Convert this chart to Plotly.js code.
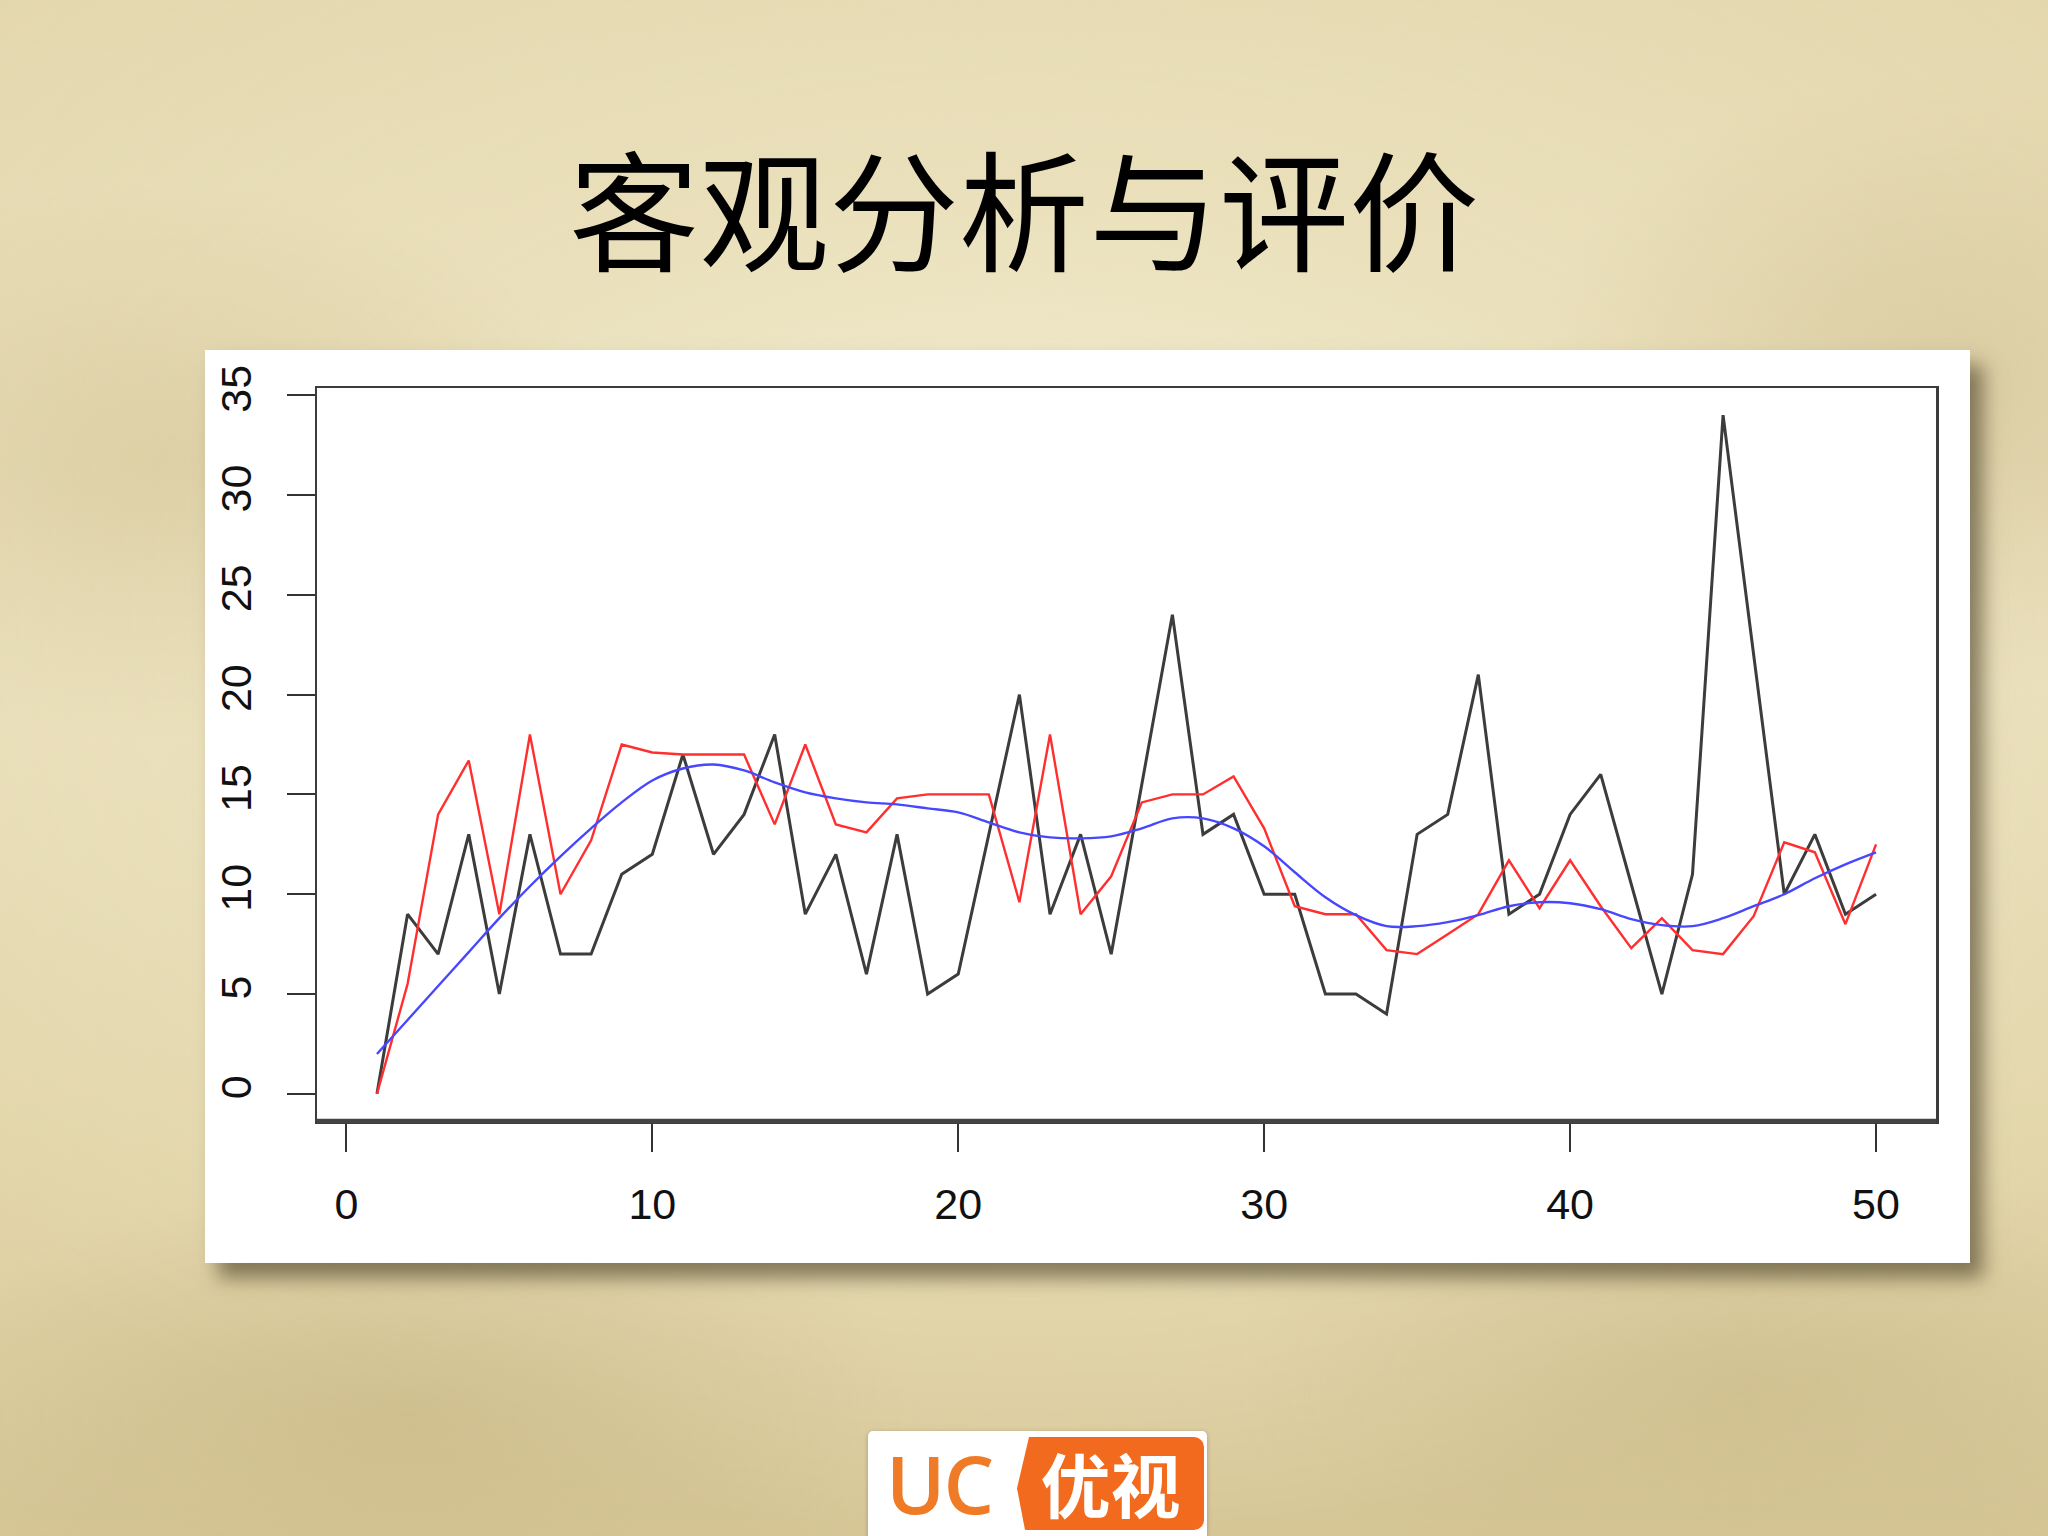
<!DOCTYPE html>
<html>
<head>
<meta charset="utf-8">
<script src="https://cdn.plot.ly/plotly-3.0.1.min.js"></script>
<style>
html, body { margin:0; padding:0; width:2048px; height:1536px; overflow:hidden; }
body {
  background:
    radial-gradient(ellipse 22% 18% at 8% 30%, rgba(205,188,140,0.45) 0%, rgba(205,188,140,0) 100%),
    radial-gradient(ellipse 20% 20% at 95% 25%, rgba(200,182,135,0.45) 0%, rgba(200,182,135,0) 100%),
    radial-gradient(ellipse 25% 15% at 20% 92%, rgba(196,178,128,0.5) 0%, rgba(196,178,128,0) 100%),
    radial-gradient(ellipse 25% 15% at 85% 90%, rgba(196,178,128,0.45) 0%, rgba(196,178,128,0) 100%),
    radial-gradient(ellipse 70% 60% at 50% 40%, rgba(244,238,210,0.95) 0%, rgba(236,227,192,0.6) 50%, rgba(210,195,150,0) 100%),
    linear-gradient(180deg, #e3d7ad 0%, #e9dfba 40%, #e0d3a6 80%, #d6c696 100%);
}
#panel { position:absolute; left:205px; top:350px; width:1765px; height:913px; background:#fff;
  box-shadow: 13px 15px 18px rgba(70,60,35,0.6); }
#chart { position:absolute; left:0; top:0; width:2048px; height:1536px; }
#logo { position:absolute; left:868px; top:1431px; width:339px; height:105px; background:#fff;
  border-radius:5px 5px 0 0; box-shadow:0 1px 4px rgba(0,0,0,0.25); }
#logo .uc { position:absolute; left:18px; top:12px; font-family:'Open Sans', sans-serif; font-weight:600;
  font-size:80px; line-height:80px; height:80px; color:#f07b26; letter-spacing:-2px; }
#logo .yx { position:absolute; left:149px; top:6px; width:187px; height:93px; background:#f26a1d;
  border-radius:10px; clip-path: polygon(12px 0, 100% 0, 100% 100%, 8px 100%, 0 55%); }
#logo .yx span { position:absolute; left:0; top:10px; width:187px; height:72px; color:#fff;
  font-family:'Noto Sans CJK SC', sans-serif; font-weight:700; font-size:70px; line-height:72px; text-align:center; }
</style>
</head>
<body>
<div id="panel"></div>
<div id="chart"></div>
<div id="logo"><span class="uc">UC</span><div class="yx"><span>优视</span></div></div>
<script>
// index 1..50
const xIndex = [1,2,3,4,5,6,7,8,9,10,11,12,13,14,15,16,17,18,19,20,
                21,22,23,24,25,26,27,28,29,30,31,32,33,34,35,36,37,38,39,40,
                41,42,43,44,45,46,47,48,49,50];
// observed series (black)
const observed = [0,9,7,13,5,13,7,7,11,12, 17,12,14,18,9,12,6,13,5,6,
                  13,20,9,13,7,15.5,24,13,14,10, 10,5,5,4,13,14,21,9,10,14,
                  16,10.5,5,11,34,22,10,13,9,10];
// fitted series (red)
const fitted = [0,5.5,14,16.7,9,18,10,12.7,17.5,17.1, 17,17,17,13.5,17.5,13.5,13.1,14.8,15,15,
                15,9.6,18,9,10.9,14.6,15,15,15.9,13.3, 9.4,9,9,7.2,7,8,9,11.7,9.3,11.7,
                9.4,7.3,8.8,7.2,7,8.9,12.6,12.1,8.5,12.5];
// smoothed trend (blue)
const smooth = [2.0,3.7,5.4,7.1,8.8,10.4,11.9,13.3,14.6,15.7, 16.3,16.5,16.2,15.6,15.1,14.8,14.6,14.5,14.3,14.1,
                13.6,13.1,12.85,12.8,12.9,13.3,13.8,13.8,13.3,12.4, 11.1,9.85,8.95,8.4,8.4,8.6,8.95,9.4,9.6,9.55,
                9.25,8.75,8.45,8.4,8.8,9.4,10.0,10.8,11.5,12.1];
const xTicks = [0,10,20,30,40,50];
const yTicks = [0,5,10,15,20,25,30,35];
const titleText = '客观分析与评价';

const traces = [
  { x: xIndex, y: observed, type:'scatter', mode:'lines', line:{color:'#3c3c3c', width:3}, hoverinfo:'skip' },
  { x: xIndex, y: fitted, type:'scatter', mode:'lines', line:{color:'#ff2f2f', width:2.4}, hoverinfo:'skip' },
  { x: xIndex, y: smooth, type:'scatter', mode:'lines', line:{color:'#4747ff', width:2.4, shape:'spline', smoothing:1}, hoverinfo:'skip' }
];

const tickFont = { family:'Liberation Sans, Arial, sans-serif', size:43, color:'#111' };
const layout = {
  width:2048, height:1536,
  paper_bgcolor:'rgba(0,0,0,0)', plot_bgcolor:'#ffffff',
  margin:{ l:317, r:112, t:388, b:415, pad:0 },
  showlegend:false,
  title:{ text:titleText, font:{ family:'Noto Sans CJK SC, sans-serif', size:130, color:'#000' },
          x:0.5, xref:'container', xanchor:'center', y:1-215/1536, yref:'container', yanchor:'middle' },
  xaxis:{ range:[-0.96, 51.96], tickmode:'array', tickvals:xTicks, ticktext:xTicks.map(String),
          ticks:'outside', ticklen:28, tickwidth:2, tickcolor:'#333',
          showline:true, mirror:true, linecolor:'#3c3c3c', linewidth:2.5,
          showgrid:false, zeroline:false, tickfont:tickFont, ticklabelstandoff:16 },
  yaxis:{ range:[-1.36, 35.36], tickmode:'array', tickvals:yTicks, ticktext:yTicks.map(String),
          ticks:'outside', ticklen:28, tickwidth:2, tickcolor:'#333', tickangle:-90,
          showline:true, mirror:true, linecolor:'#3c3c3c', linewidth:2.5,
          showgrid:false, zeroline:false, tickfont:tickFont, ticklabelstandoff:18 },
  shapes:[ { type:'line', xref:'paper', yref:'paper', x0:0, x1:1, y0:0, y1:0,
             line:{ color:'#444', width:4.5 } } ]
};
Plotly.newPlot('chart', traces, layout, { staticPlot:true, displayModeBar:false });
</script>
</body>
</html>
